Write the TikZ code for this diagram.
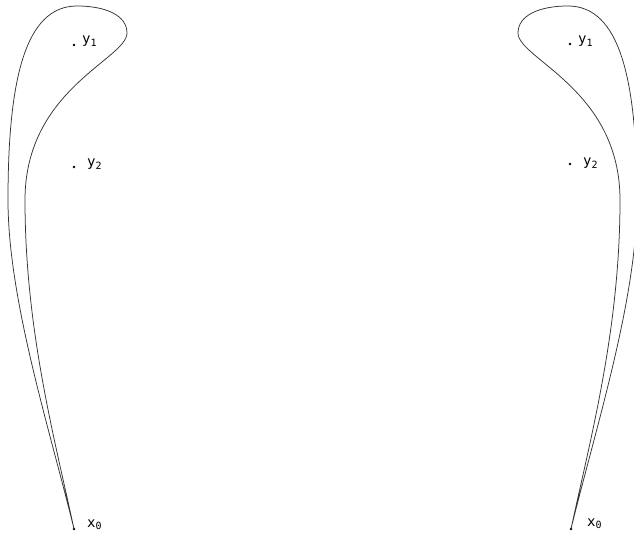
\documentclass[tikz,border=0pt]{standalone}
\usepackage{fontspec}
\newfontfamily\lblfont{DejaVu Sans Mono}

% subscript digit of a label
\newcommand{\sub}[1]{\raisebox{-2.5pt}{\fontsize{10}{10}\selectfont #1}}

% one loop from a base point, in coordinates relative to it
\newcommand{\teardrop}[1]{%
  \draw [loopline] (#1.center)
    .. controls (-24,-99) and (-66,-229) .. (-66,-329)
    .. controls (-66,-449) and (-49,-523) .. (3,-523)
    .. controls (31,-523) and (53,-514) .. (53,-496)
    .. controls (53,-470) and (-49,-440) .. (-49,-329)
    .. controls (-49,-199) and (-19,-89) .. (#1.center);}

\begin{document}
\begin{tikzpicture}[x=1pt,y=-1pt]
  \tikzstyle{pt} = [circle, fill=black, inner sep=0pt, minimum size=2.6pt]
  \tikzstyle{lbl} = [anchor=base west, inner sep=0pt, font=\lblfont\fontsize{14}{14}\selectfont]
  \tikzstyle{loopline} = [line width=0.75pt, black!80]

  \clip (0,0) rectangle (634,534);

  % Left picture
  \node [pt] (x0L) at (74,529) {};
  \node [pt] (y1L) at (74,45) {};
  \node [pt] (y2L) at (74,167) {};
  \node [lbl] (y1Ltext) at (82,44) {y\sub{1}};
  \node [lbl] (y2Ltext) at (87,167) {y\sub{2}};
  \node [lbl] (x0Ltext) at (87,527) {x\sub{0}};

  % Right picture
  \node [pt] (x0R) at (571,529) {};
  \node [pt] (y1R) at (570,44) {};
  \node [pt] (y2R) at (570,164) {};
  \node [lbl] (y1Rtext) at (578,44) {y\sub{1}};
  \node [lbl] (y2Rtext) at (583,166) {y\sub{2}};
  \node [lbl] (x0Rtext) at (587,526) {x\sub{0}};

  % Loops
  \begin{scope}[shift={(74,529)}]
    \teardrop{x0L}
  \end{scope}
  \begin{scope}[shift={(571,529)}, xscale=-1]
    \teardrop{x0R}
  \end{scope}
\end{tikzpicture}
\end{document}
